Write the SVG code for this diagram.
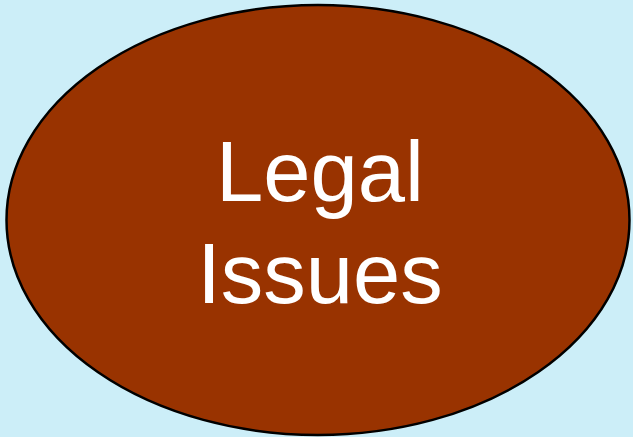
<svg xmlns="http://www.w3.org/2000/svg" width="633" height="437" viewBox="0 0 633 437">
<style>
.node{fill:#993300;stroke:#000;stroke-width:2.5}
.lbl{font-family:"Liberation Sans",Arial,sans-serif;font-size:85px;fill:#fff;text-anchor:middle}
</style>
<rect width="633" height="437" fill="#CCEEF8"/>
<g id="connectors"></g>
<g id="legal-issues">
<ellipse class="node" cx="318" cy="220" rx="311.5" ry="215"/>
<text class="lbl" x="320" y="201">Legal</text>
<text class="lbl" x="320" y="303">Issues</text>
</g>
</svg>
